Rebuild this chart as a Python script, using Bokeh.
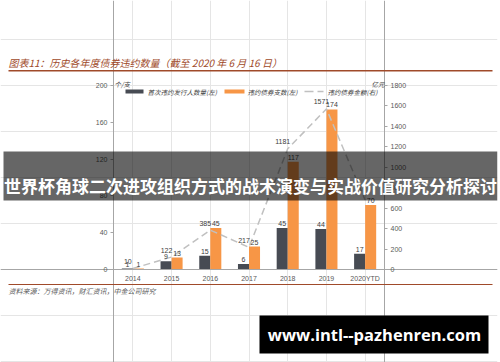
from bokeh.plotting import figure
from bokeh.models import (ColumnDataSource, FactorRange, Range1d, LinearAxis,
                          CategoricalAxis, FixedTicker, Label, BoxAnnotation)
from bokeh.transform import dodge
from bokeh.core.properties import value
from bokeh.embed import file_html
from bokeh.resources import INLINE

# ---- data -------------------------------------------------------------
years = ["2014", "2015", "2016", "2017", "2018", "2019", "2020YTD"]
first_default_issuers = [1, 9, 15, 6, 45, 44, 17]      # 首次违约发行人数量（左）
defaulted_bonds = [1, 13, 45, 25, 117, 174, 70]         # 违约债券支数（左）
default_amount = [10, 122, 385, 217, 1181, 1571, 680]   # 违约债券金额（右，亿元）
amount_labels = ["10", "122", "385", "217", "1181", "1571", ""]
left_ticks = [0, 40, 80, 120, 160, 200]
right_ticks = [0, 200, 400, 600, 800, 1000, 1200, 1400, 1600, 1800]

# ---- geometry (canvas pixels) -----------------------------------------
W, H = 500, 362
FRAME_W = 497                  # drawing frame spans the canvas up to x=497
AX_L, AX_R = 113, 384          # where the value axes sit
Y_ZERO, Y_TOP = 269, 85        # canvas rows of 0 and of the top tick

CJK = "Noto Sans CJK SC"
NUM = "Liberation Sans"
DARK = "#474b53"
ORANGE = "#f79646"
AMT = "#c0c0c0"
BROWN = "#a04a2a"
TXT = "#404040"

n = len(years)
cat_px = (AX_R - AX_L) / n
pad = AX_L / cat_px
k_left = (Y_ZERO - Y_TOP) / left_ticks[-1]
k_right = (Y_ZERO - Y_TOP) / right_ticks[-1]


def sx(cx):
    return cx


def sy(cy):
    return H - cy


def screen_box(l, r, t, b, **kw):
    return BoxAnnotation(left=sx(l), right=sx(r), top=sy(t), bottom=sy(b),
                         left_units="screen", right_units="screen",
                         top_units="screen", bottom_units="screen",
                         line_color=None, **kw)


def screen_text(cx, cy, text, **kw):
    return Label(x=sx(cx), y=sy(cy), x_units="screen", y_units="screen",
                 text=text, text_baseline="middle", **kw)


src = ColumnDataSource(dict(
    year=years,
    issuers=first_default_issuers,
    bonds=defaulted_bonds,
    amount=default_amount,
    issuers_txt=[str(v) for v in first_default_issuers],
    bonds_txt=[str(v) for v in defaulted_bonds],
    amount_txt=amount_labels,
))

p = figure(width=W, height=H,
           x_range=FactorRange(*years, range_padding=pad, range_padding_units="absolute"),
           y_range=Range1d(-(H - Y_ZERO) / k_left, Y_ZERO / k_left),
           output_backend="svg", toolbar_location=None,
           x_axis_location=None, y_axis_location=None,
           min_border_left=0, min_border_right=W - FRAME_W,
           min_border_top=0, min_border_bottom=0)
p.extra_y_ranges = {"amt": Range1d(-(H - Y_ZERO) / k_right, Y_ZERO / k_right)}
p.outline_line_color = None
p.background_fill_color = "white"
p.border_fill_color = "white"

# axes pinned inside the frame
ax_l = LinearAxis(ticker=FixedTicker(ticks=left_ticks), fixed_location=0)
ax_r = LinearAxis(y_range_name="amt", ticker=FixedTicker(ticks=right_ticks), fixed_location=n)
ax_b = CategoricalAxis(fixed_location=0)
for ax in (ax_l, ax_r, ax_b):
    ax.axis_line_color = "#a6a6a6"
    ax.major_tick_line_color = "#a6a6a6"
    ax.major_tick_in = 0
    ax.major_tick_out = 3
    ax.minor_tick_line_color = None
    ax.major_label_text_font = NUM
    ax.major_label_text_font_size = "7px"
    ax.major_label_text_color = "#595959"
    ax.major_label_standoff = 3
ax_b.major_tick_line_color = None
ax_b.major_label_standoff = 2
p.add_layout(ax_l, "left")
p.add_layout(ax_r, "right")
p.add_layout(ax_b, "below")

# bars and amount line
bw = 0.285
p.vbar(x=dodge("year", -bw / 2, range=p.x_range), top="issuers", width=bw,
       source=src, fill_color=DARK, line_color=None)
p.vbar(x=dodge("year", bw / 2, range=p.x_range), top="bonds", width=bw,
       source=src, fill_color=ORANGE, line_color=None)
p.line(x="year", y="amount", source=src, y_range_name="amt",
       line_color=AMT, line_width=1.5, line_dash="7 4")

# value labels
p.text(x=dodge("year", -bw / 2, range=p.x_range), y="issuers", text="issuers_txt",
       source=src, text_font=value(NUM), text_font_size="7px", text_color=TXT,
       text_align="center", text_baseline="bottom", y_offset=-2)
p.text(x=dodge("year", bw / 2, range=p.x_range), y="bonds", text="bonds_txt",
       source=src, text_font=value(NUM), text_font_size="7px", text_color=TXT,
       text_align="center", text_baseline="bottom", y_offset=-2)
p.text(x="year", y="amount", text="amount_txt", source=src, y_range_name="amt",
       text_font=value(NUM), text_font_size="7px", text_color=TXT,
       text_align="center", text_baseline="middle", x_offset=-5, y_offset=-7)

# unit captions
p.add_layout(screen_text(114, 83, "个/支", text_font=CJK, text_font_size="6.5px",
                         text_font_style="italic", text_color=TXT))
p.add_layout(screen_text(384, 83, "亿元", text_font=CJK, text_font_size="6.5px",
                         text_align="right", text_font_style="italic", text_color=TXT))

# legend
leg_y = 91
p.add_layout(screen_box(125, 143, leg_y - 2, leg_y + 2, fill_color=DARK, fill_alpha=1))
p.add_layout(screen_box(224, 244, leg_y - 2, leg_y + 2, fill_color=ORANGE, fill_alpha=1))
for a, b in ((304, 313), (317, 323)):
    p.add_layout(screen_box(a, b, leg_y - 0.75, leg_y + 0.75, fill_color=AMT, fill_alpha=1))
for x0, t in ((147, "首次违约发行人数量(左)"), (247, "违约债券支数(左)"), (327, "违约债券金额(右)")):
    p.add_layout(screen_text(x0, leg_y, t, text_font=CJK, text_font_size="6.5px",
                             text_font_style="italic", text_color=TXT))

# heading and source note with their rules
p.add_layout(screen_text(8, 62, "图表11：历史各年度债券违约数量（截至 2020 年 6 月 16 日）",
                         text_font=CJK, text_font_size="10px", text_font_style="italic",
                         text_color=BROWN))
p.add_layout(screen_box(8, 492, 69.5, 71, fill_color=BROWN, fill_alpha=1))
p.add_layout(screen_box(8, 492, 283.5, 284.5, fill_color=BROWN, fill_alpha=1))
p.add_layout(screen_text(8, 290, "资料来源：万得资讯，财汇资讯，中金公司研究",
                         text_font=CJK, text_font_size="7px", text_font_style="italic",
                         text_color="#595959"))

# headline banner across the chart
p.add_layout(screen_box(3, 497, 151, 200, fill_color="black", fill_alpha=0.6, level="overlay"))
p.add_layout(screen_text(250, 185, "世界杯角球二次进攻组织方式的战术演变与实战价值研究分析探讨",
                         text_font=CJK, text_font_size="17px", text_font_style="bold",
                         text_color="white", text_align="center", level="overlay"))

# site tag
p.add_layout(screen_box(259, 488, 315, 353, fill_color="black", fill_alpha=1, level="overlay"))
p.add_layout(screen_text(374, 334, "www.intl--pazhenren.com",
                         text_font="Open Sans", text_font_size="16.5px", text_font_style="bold",
                         text_color="white", text_align="center", level="overlay"))

open("out.html", "w").write(file_html(p, INLINE))
